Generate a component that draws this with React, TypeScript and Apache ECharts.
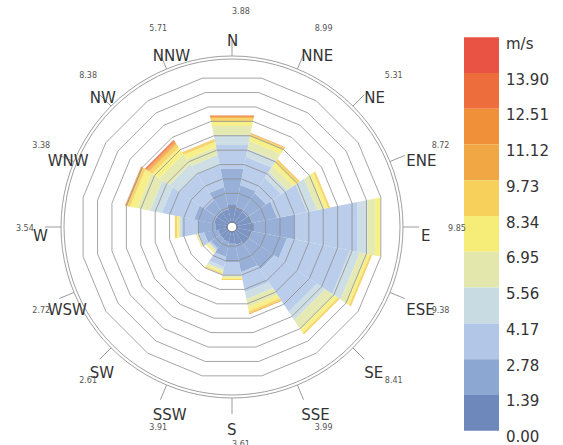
import React, { useEffect, useRef } from 'react';
import * as echarts from 'echarts';

// Wind directions (clockwise from North)
const directions = ['N', 'NNE', 'NE', 'ENE', 'E', 'ESE', 'SE', 'SSE', 'S', 'SSW', 'SW', 'WSW', 'W', 'WNW', 'NW', 'NNW'];
// Small value labels printed next to each direction
const dirValueLabels = ['3.88', '8.99', '5.31', '8.72', '9.85', '9.38', '8.41', '3.99', '3.61', '3.91', '2.61', '2.72', '3.54', '3.38', '8.38', '5.71'];
// Speed class boundaries (m/s), legend tick labels
const speedTicks = ['0.00', '1.39', '2.78', '4.17', '5.56', '6.95', '8.34', '9.73', '11.12', '12.51', '13.90'];
const speedUnit = 'm/s';
// Colors of speed classes, lowest to highest
const classColors = ['#6682b8', '#86a2d0', '#aec4e6', '#c5d8e0', '#e1e6a8', '#f6ec72', '#f6cd52', '#f0a33a', '#ef8a2d', '#ec6533', '#e84a3a'];

// Frequency (%) per speed class, per direction (N .. NNW)
const f0_139 = [1.19, 1.06, 0.92, 1.06, 1.19, 1.06, 1.06, 0.92, 0.78, 0.71, 0.64, 0.64, 0.78, 0.92, 0.92, 0.92];
const f139_278 = [2.50, 1.53, 1.53, 1.74, 2.78, 2.43, 2.08, 1.88, 1.32, 1.04, 0.76, 0.97, 1.25, 1.39, 0.97, 1.53];
const f278_417 = [1.67, 1.94, 1.25, 2.08, 4.42, 4.38, 3.47, 1.39, 0.83, 0.69, 0.14, 0.35, 1.11, 2.22, 2.08, 1.53];
const f417_556 = [0.69, 0.56, 0.49, 0.69, 0.69, 0.69, 0.69, 0.49, 0.14, 0.21, 0.07, 0.07, 0.14, 0.83, 0.83, 0.69];
const f556_695 = [0.63, 0.56, 0.49, 0.49, 0.51, 0.49, 0.76, 0.56, 0.10, 0.14, 0.07, 0.07, 0.07, 0.90, 0.83, 0.56];
const f695_834 = [0.35, 0.35, 0.35, 0.28, 0.37, 0.21, 0.28, 0.28, 0.10, 0.10, 0.10, 0.03, 0.14, 0.49, 0.56, 0.35];
const f834_973 = [0.21, 0.14, 0.17, 0.14, 0.00, 0.14, 0.14, 0.14, 0.07, 0.07, 0.03, 0.03, 0.14, 0.21, 0.28, 0.17];
const f973_1112 = [0.07, 0.03, 0.03, 0.00, 0.00, 0.00, 0.00, 0.07, 0.00, 0.00, 0.00, 0.00, 0.00, 0.07, 0.14, 0.03];
const f1112_1251 = [0.06, 0.03, 0.00, 0.00, 0.00, 0.00, 0.00, 0.00, 0.00, 0.00, 0.00, 0.00, 0.00, 0.05, 0.10, 0.00];
const f1251_1390 = [0.04, 0.00, 0.00, 0.00, 0.00, 0.00, 0.00, 0.00, 0.00, 0.00, 0.00, 0.00, 0.00, 0.02, 0.07, 0.00];
const f1390_up = [0.00, 0.00, 0.00, 0.00, 0.00, 0.00, 0.00, 0.00, 0.00, 0.00, 0.00, 0.00, 0.00, 0.00, 0.03, 0.00];

const classFreqs = [f0_139, f139_278, f278_417, f417_556, f556_695, f695_834, f834_973, f973_1112, f1112_1251, f1251_1390, f1390_up];

// Grid rings (percent)
const ringValues = [0, 1, 2, 3, 4, 5, 6, 7, 8, 9, 10];

const FONT = 'DejaVu Sans, Verdana, sans-serif';
const SECTOR = 360 / directions.length;
const norm = (a: number) => ((a % 360) + 360) % 360;

export default function App() {
  const ref = useRef<HTMLDivElement>(null);

  useEffect(() => {
    if (!ref.current) return;
    const chart = echarts.init(ref.current, undefined, { renderer: 'svg' });

    // stacked bar segments
    const cum = directions.map(() => 0);
    const barData: number[][] = [];
    classFreqs.forEach((arr, c) => {
      arr.forEach((v, d) => {
        if (v > 0) {
          barData.push([d * SECTOR, cum[d], cum[d] + v, c]);
        }
        cum[d] += v;
      });
    });

    const barRender = (params: any, api: any) => {
      const ang = api.value(0);
      const r0 = api.value(1);
      const r1 = api.value(2);
      const c = api.value(3);
      const a0 = norm(ang - SECTOR / 2);
      const a1 = norm(ang + SECTOR / 2);
      const pts = [api.coord([r0, a0]), api.coord([r0, a1]), api.coord([r1, a1]), api.coord([r1, a0])];
      return {
        type: 'polygon',
        shape: { points: pts },
        style: { fill: classColors[c], opacity: 0.85 },
      };
    };

    const ringRender = (params: any, api: any) => {
      const v = api.value(0);
      const pts: number[][] = [];
      for (let i = 0; i < directions.length; i++) {
        pts.push(api.coord([v, norm(i * SECTOR + SECTOR / 2)]));
      }
      return {
        type: 'polygon',
        shape: { points: pts },
        style: { fill: 'none', stroke: v === 0 ? '#6a6f80' : '#8e8e8e', lineWidth: 0.8 },
      };
    };

    const frameRender = (params: any) => {
      const cs = params.coordSys;
      return {
        type: 'circle',
        shape: { cx: cs.cx, cy: cs.cy, r: cs.r - 3 },
        style: { fill: 'none', stroke: '#a0a0a0', lineWidth: 1 },
      };
    };

    const dirLabelRender = (params: any, api: any) => {
      const p = api.coord([12.88, api.value(0)]);
      return {
        type: 'text',
        x: p[0] - 5,
        y: p[1] + 8.5,
        style: {
          text: directions[params.dataIndex],
          fill: '#333',
          fontSize: 15,
          fontFamily: FONT,
          align: 'left',
          verticalAlign: 'middle',
        },
      };
    };

    const valLabelRender = (params: any, api: any) => {
      const p = api.coord([14.38, api.value(0)]);
      return {
        type: 'text',
        x: p[0],
        y: p[1] + 1,
        style: {
          text: dirValueLabels[params.dataIndex],
          fill: '#555',
          fontSize: 8,
          fontFamily: FONT,
          align: 'left',
          verticalAlign: 'middle',
        },
      };
    };

    // legend (color bar)
    const legTop = 37.3;
    const legH = 35.76;
    const legX = 464;
    const legW = 35;
    const graphics: any[] = [];
    const n = classColors.length;
    for (let i = 0; i < n; i++) {
      const c = n - 1 - i;
      graphics.push({
        type: 'rect',
        left: legX,
        top: legTop + i * legH,
        shape: { x: 0, y: 0, width: legW, height: legH },
        style: { fill: classColors[c], opacity: 0.95 },
      });
    }
    const legLabels = [speedUnit, ...speedTicks.slice(1).reverse(), speedTicks[0]];
    legLabels.forEach((t, i) => {
      graphics.push({
        type: 'text',
        x: 506,
        y: legTop + i * legH + 6.5,
        style: {
          text: t,
          fill: '#333',
          fontSize: 15,
          lineHeight: 15,
          fontFamily: FONT,
          align: 'left',
          verticalAlign: 'middle',
        },
      });
    });

    chart.setOption({
      animation: false,
      textStyle: { fontFamily: FONT },
      polar: { center: [232, 227], radius: [4.9, 171] },
      angleAxis: {
        type: 'value',
        min: 0,
        max: 360,
        interval: 22.5,
        startAngle: 90,
        clockwise: true,
        axisLine: { show: true, lineStyle: { color: '#a0a0a0', width: 1 } },
        axisTick: { show: true, length: 16, lineStyle: { color: '#9a9a9a', width: 1 } },
        axisLabel: { show: false },
        splitLine: { show: false },
      },
      radiusAxis: {
        type: 'value',
        min: 0,
        max: 11.31,
        show: false,
        splitLine: { show: false },
      },
      series: [
        {
          type: 'custom',
          name: 'bars',
          coordinateSystem: 'polar',
          renderItem: barRender,
          data: barData,
          z: 2,
          silent: true,
        },
        {
          type: 'custom',
          name: 'rings',
          coordinateSystem: 'polar',
          renderItem: ringRender,
          data: ringValues.map((v) => [v, 0]),
          z: 3,
          silent: true,
        },
        {
          type: 'custom',
          name: 'frame',
          coordinateSystem: 'polar',
          renderItem: frameRender,
          data: [[11, 0]],
          z: 3,
          silent: true,
        },
        {
          type: 'custom',
          name: 'dirLabels',
          coordinateSystem: 'polar',
          renderItem: dirLabelRender,
          data: directions.map((d, i) => [i * SECTOR]),
          z: 4,
          silent: true,
        },
        {
          type: 'custom',
          name: 'valLabels',
          coordinateSystem: 'polar',
          renderItem: valLabelRender,
          data: directions.map((d, i) => [i * SECTOR]),
          z: 4,
          silent: true,
        },
      ],
      graphic: graphics,
    });

    return () => chart.dispose();
  }, []);

  return <div ref={ref} style={{ position: 'absolute', left: 0, top: 0, width: 563, height: 445 }} />;
}
